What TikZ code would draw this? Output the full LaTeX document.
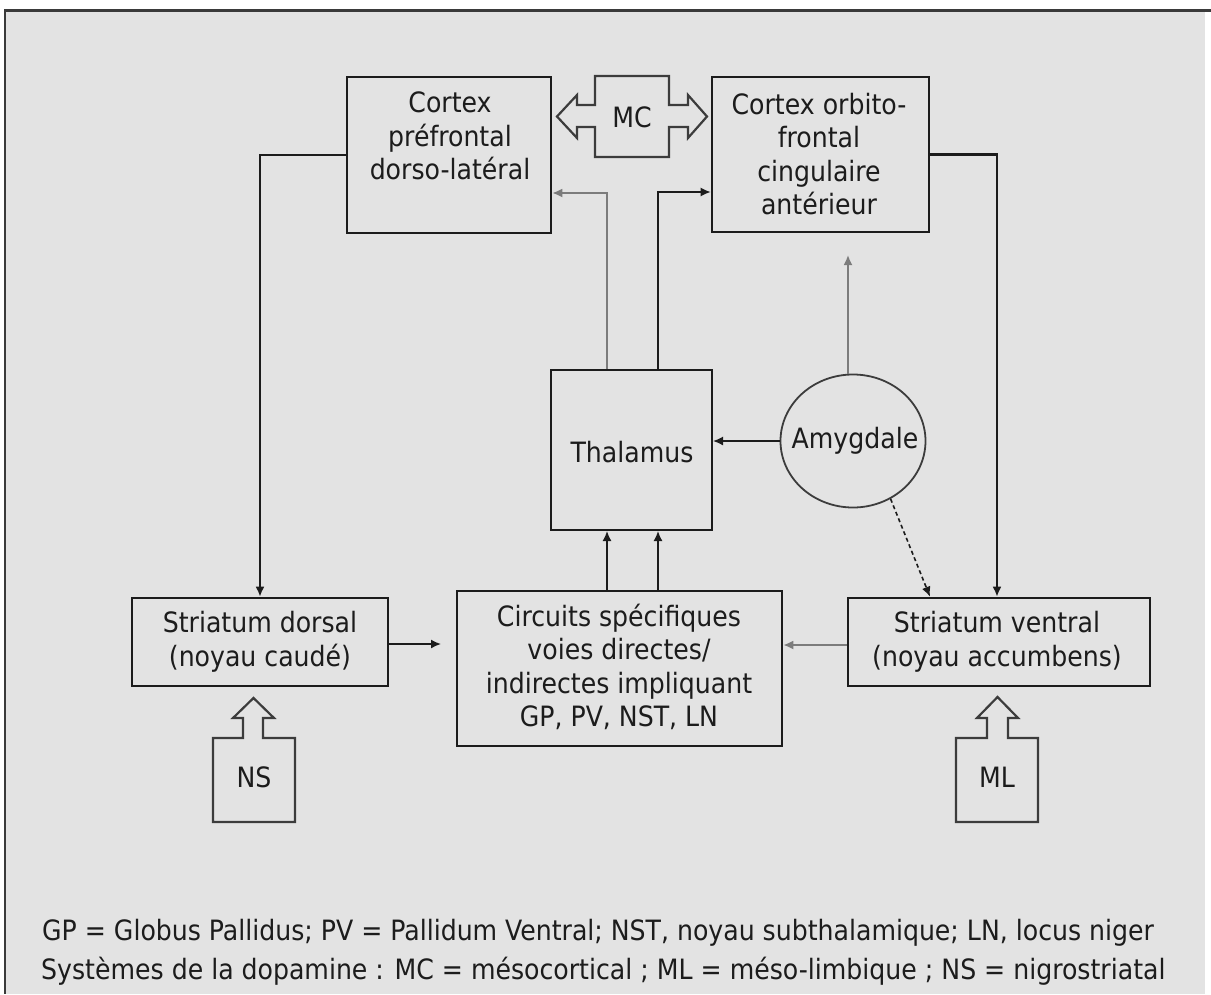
\documentclass[tikz,border=0pt]{standalone}
\usepackage{fontspec}
\setmainfont{DejaVu Sans Condensed}
\usetikzlibrary{arrows.meta,shapes.geometric}
\definecolor{panel}{HTML}{E3E3E3}
\definecolor{ink}{HTML}{1C1C1C}
\definecolor{wire}{HTML}{7C7C7C}
\definecolor{frameln}{HTML}{3A3A3A}
\definecolor{outline}{HTML}{3C3C3C}

\begin{document}
\begin{tikzpicture}[x=1pt,y=-1pt,
  box/.style={draw=ink, line width=2.6pt, rectangle, inner sep=0pt},
  thinbox/.style={draw=ink, line width=2pt, rectangle, inner sep=0pt},
  txt/.style={text=ink, align=center, inner sep=0pt, font=\fontsize{28}{33.5}\selectfont},
  legend/.style={text=ink, anchor=base west, inner sep=0pt, font=\fontsize{28}{30}\selectfont},
  conn/.style={draw=ink, line width=1.6pt, -{Latex[length=10pt,width=9pt]}},
  lightconn/.style={conn, draw=wire, line width=1.8pt},
  loop/.style={conn, line width=2.6pt},
  dopa/.style={draw=outline, line width=2.2pt, fill=panel, line join=miter}
]
\useasboundingbox (0,0) rectangle (1211,994);
\fill[white] (0,0) rectangle (1211,994);
\fill[panel] (4,10) rectangle (1205,994);
\draw[frameln, line width=3pt] (4,10) -- (1211,10);
\draw[frameln, line width=2.5pt] (5,10) -- (5,994);

% --- cortical boxes
\node[box, minimum width=204pt, minimum height=156pt] (dlpfc) at (449,155) {};
\node[txt] (dlpfc-t) at (450,136) {Cortex\\préfrontal\\dorso-latéral};
\node[box, minimum width=217pt, minimum height=155pt] (ofc) at (820.5,154.5) {};
\node[txt] (ofc-t) at (819,154) {Cortex orbito-\\frontal\\cingulaire\\antérieur};

% --- mesocortical double arrow
\draw[dopa] (595,76) -- (669,76) -- (669,105) -- (688,105) -- (688,95) -- (707,116.5)
  -- (688,138) -- (688,127) -- (669,127) -- (669,157) -- (595,157) -- (595,127)
  -- (577,127) -- (577,138) -- (557,116.5) -- (577,95) -- (577,105) -- (595,105) -- cycle;
\node[txt] (mc) at (632,117) {MC};

% --- thalamus and amygdala
\node[thinbox, minimum width=161pt, minimum height=160pt] (thal) at (631.5,450) {};
\node[txt] (thal-t) at (632,452) {Thalamus};
\node[ellipse, draw=outline, line width=1.8pt, minimum width=145pt, minimum height=133pt,
      inner sep=0pt] (amy) at (853,441) {};
\node[txt] (amy-t) at (855,441) {Amygdale};

% --- striatum and basal ganglia circuits
\node[box, minimum width=256pt, minimum height=88pt] (sdor) at (260,642) {};
\node[txt] (sdor-t) at (260,642) {Striatum dorsal\\(noyau caudé)};
\node[box, minimum width=325pt, minimum height=155pt] (circ) at (619.5,668.5) {};
\node[txt] (circ-t) at (619,667) {Circuits spécifiques\\voies directes/\\indirectes impliquant\\GP, PV, NST, LN};
\node[box, minimum width=302pt, minimum height=88pt] (sven) at (999,642) {};
\node[txt] (sven-t) at (997,642) {Striatum ventral\\(noyau accumbens)};

% --- nigrostriatal and meso-limbic inputs
\draw[dopa] (213,738) -- (243,738) -- (243,718) -- (233,718) -- (253.5,698) -- (274,718)
  -- (263,718) -- (263,738) -- (295,738) -- (295,822) -- (213,822) -- cycle;
\node[txt] (ns) at (254,777) {NS};
\draw[dopa] (956,738) -- (987,738) -- (987,718) -- (977,718) -- (997.5,697) -- (1018,718)
  -- (1008,718) -- (1008,738) -- (1038,738) -- (1038,822) -- (956,822) -- cycle;
\node[txt] (ml) at (997,777) {ML};

% --- helper coordinates
\coordinate (xa) at (607,0);
\coordinate (xb) at (658,0);
\coordinate (amytip) at (848,255);
\coordinate (sdortip) at (441,644);

% --- cortico-striatal loops
\draw[loop] (dlpfc.west) -| (sdor.north);
\draw[loop] (ofc.east) -| (sven.north -| 997,0);

% --- thalamo-cortical projections
\draw[lightconn] (thal.north -| xa) |- ([yshift=-38pt]dlpfc.east);
\draw[conn] (thal.north -| xb) |- ([yshift=-37.5pt]ofc.west);

% --- circuits to thalamus
\draw[conn] (circ.north -| xa) -- (thal.south -| xa);
\draw[conn] (circ.north -| xb) -- (thal.south -| xb);

% --- amygdala projections
\draw[conn] (amy.west) -- (amy.west -| thal.east);
\draw[lightconn] (amy.north -| amytip) -- (amytip);
\draw[conn, dashed, dash pattern=on 4pt off 3pt] (amy.-57) -- ([xshift=-69pt]sven.north);

% --- striatal outputs
\draw[conn] ([yshift=-2pt]sdor.east) -- (sdortip);
\draw[lightconn] ([yshift=-3pt]sven.west) -- ([yshift=-3pt]sven.west -| circ.east);

% --- legend
\node[legend] (leg1) at (42,940) {GP = Globus Pallidus; PV = Pallidum Ventral; NST, noyau subthalamique; LN, locus niger};
\node[legend] (leg2) at (41,979) {Systèmes de la dopamine : MC = mésocortical ; ML = méso-limbique ; NS = nigrostriatal};
\end{tikzpicture}
\end{document}
